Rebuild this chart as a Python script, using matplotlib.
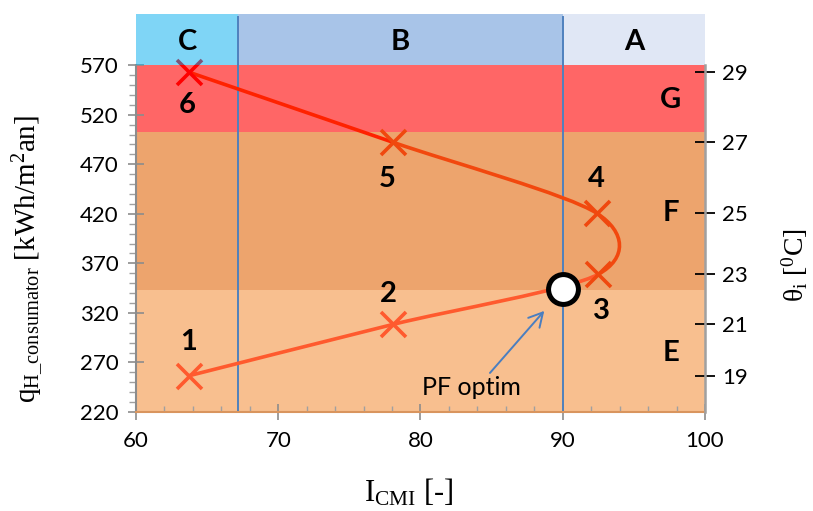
import numpy as np
import matplotlib
matplotlib.use('Agg')
import matplotlib.pyplot as plt
from matplotlib.path import Path
from matplotlib.patches import PathPatch, Rectangle

plt.rcParams['font.family'] = ['Lato', 'DejaVu Sans']
plt.rcParams['mathtext.fontset'] = 'custom'
plt.rcParams['mathtext.rm'] = 'Liberation Serif'
plt.rcParams['mathtext.it'] = 'Liberation Serif:italic'

# puncte 1..6 (I_CMI, q_H) si temperatura interioara
i_cmi = [63.7, 78.1, 92.5, 92.4, 78.1, 63.7]
q_heat = [256.5, 308.5, 359.0, 420.5, 492.0, 563.0]
theta_i = [19, 21, 23, 25, 27, 29]
point_names = ['1', '2', '3', '4', '5', '6']

# punctul optim PF
pf_x, pf_q = 90.0, 344.0

# clase confort (banda de sus) si clase energetice (fundal)
cmi_classes = ['C', 'B', 'A']
cmi_edges = [60, 67.2, 90, 100]
q_classes = ['E', 'F', 'G']
q_edges = [220, 343, 502.5, 570]

# stiluri
seg_colors = ['#FF5A2E', '#FF5A2E', '#F2480E', '#F2480E', '#FF2200']
mark_colors = ['#FF5A2E', '#FF5A2E', '#F0480E', '#F0480E', '#F0480E', '#FF0000']
q_band_colors = ['#F8BF8F', '#EDA46D', '#FF6666']
cmi_band_colors = ['#00ADEF', '#538BD3', '#C3D1ED']
label_offsets = [(0, 24), (-3.5, 21.5), (2, -26.5), (-0.7, 25), (-4.3, -26), (-0.7, -24)]
q_top = 621.6
big = dict(fontsize=21, fontweight='bold', ha='center', va='center', zorder=9)

fig = plt.figure(figsize=(8.13, 5.11), dpi=100)
ax = fig.add_axes([0.16728, 0.19374, 0.69988, 0.77886])
ax.set_xlim(60, 100)
ax.set_ylim(220, q_top)

# benzi de fundal
for k in range(len(q_classes)):
    ax.add_patch(Rectangle((60, q_edges[k]), 40, q_edges[k + 1] - q_edges[k],
                           facecolor=q_band_colors[k], edgecolor='none', zorder=0))
    ax.text(97.6, (q_edges[k] + q_edges[k + 1]) / 2 - 1.5, q_classes[k], **big)

# banda de sus (semi-transparenta)
for k in range(len(cmi_classes)):
    ax.add_patch(Rectangle((cmi_edges[k], 570), cmi_edges[k + 1] - cmi_edges[k], q_top - 570,
                           facecolor=cmi_band_colors[k], edgecolor='none', alpha=0.5, zorder=6))
    ax.text((cmi_edges[k] + cmi_edges[k + 1]) / 2, (570 + q_top) / 2 - 2,
            cmi_classes[k], **big)

# linii verticale limite clase
for xe in cmi_edges[1:-1]:
    ax.plot([xe, xe], [220, 570], color='#4F81BD', lw=1.4, zorder=2)
    ax.plot([xe, xe], [570, q_top - 3], color='#4F81BD', lw=1.4, zorder=7)

# curba netezita (Bezier tip Excel)
pts = np.column_stack([i_cmi, q_heat])
ext = np.vstack([pts[0], pts, pts[-1]])
for k in range(len(pts) - 1):
    p0, p1, p2, p3 = ext[k], ext[k + 1], ext[k + 2], ext[k + 3]
    c1 = p1 + (p2 - p0) / 7
    c2 = p2 - (p3 - p1) / 7
    path = Path([p1, c1, c2, p2], [Path.MOVETO, Path.CURVE4, Path.CURVE4, Path.CURVE4])
    ax.add_patch(PathPatch(path, fill=False, edgecolor=seg_colors[k], lw=2.6,
                           capstyle='round', zorder=3))

for k in range(len(i_cmi)):
    ax.plot(i_cmi[k], q_heat[k], 'x', ms=18, mew=2.6, color=mark_colors[k], zorder=4)
    ax.annotate(point_names[k], (i_cmi[k], q_heat[k]), xytext=label_offsets[k],
                textcoords='offset points', **big)

ax.plot(pf_x, pf_q, 'o', ms=21.5, mfc='white', mec='black', mew=3.6, zorder=8)
ax.annotate('PF optim', xy=(88.7, 322), xytext=(83.6, 245), fontsize=18,
            ha='center', va='center', zorder=9,
            arrowprops=dict(arrowstyle='->,head_length=0.55,head_width=0.3', color='#4A7EC0',
                            lw=1.4, shrinkA=0, shrinkB=0, relpos=(0.66, 1.0)))

# axe
ax.set_xticks(np.arange(60, 101, 10))
ax.set_xticks(np.arange(60, 101, 2), minor=True)
ax.set_yticks(np.arange(220, 571, 50))
ax.set_yticks(np.arange(220, 571, 10), minor=True)
ax.tick_params(axis='both', which='major', direction='inout', length=11, width=1.2,
               color='#8C8C8C', labelsize=16)
ax.tick_params(axis='x', which='major', pad=8)
ax.tick_params(axis='y', which='major', pad=7)
ax.tick_params(axis='x', which='minor', direction='in', length=4.5, width=1, color='#A0A0A0')
ax.tick_params(axis='y', which='minor', direction='out', length=5, width=1, color='#A0A0A0')
ax.spines['top'].set_visible(False)
ax.spines['right'].set_visible(False)
ax.spines['left'].set_bounds(220, 570)
ax.spines['left'].set_color('#8C8C8C')
ax.spines['left'].set_linewidth(1.5)
ax.spines['bottom'].set_color('#D9955E')
ax.spines['bottom'].set_linewidth(1.5)

ax2 = ax.twinx()
ax2.set_ylim(220, q_top)
ax2.set_yticks(q_heat)
ax2.set_yticklabels([str(t) for t in theta_i])
ax2.tick_params(axis='y', direction='inout', length=15, width=1.3, color='black',
                labelsize=16, pad=5)
for s in ['top', 'left', 'bottom']:
    ax2.spines[s].set_visible(False)
ax2.spines['right'].set_bounds(220, 570)
ax2.spines['right'].set_color('#A0A0A0')
ax2.spines['right'].set_linewidth(1.8)

fig.text(0.0344, 0.493, r'q$_{\mathrm{H\_consumator}}$ [kWh/m$^{2}$an]', rotation=90,
         family='Liberation Serif', fontsize=21, ha='center', va='center')
fig.text(0.503, 0.036, r'I$_{\mathrm{CMI}}$ [-]', family='Liberation Serif', fontsize=22,
         ha='center', va='center')
fig.text(0.977, 0.481, r'$\mathrm{\theta}_{\mathrm{i}}$ [$^{\mathrm{0}}$C]', rotation=90,
         family='Liberation Serif', fontsize=20, ha='center', va='center')

fig.savefig('out.png', dpi=100)
